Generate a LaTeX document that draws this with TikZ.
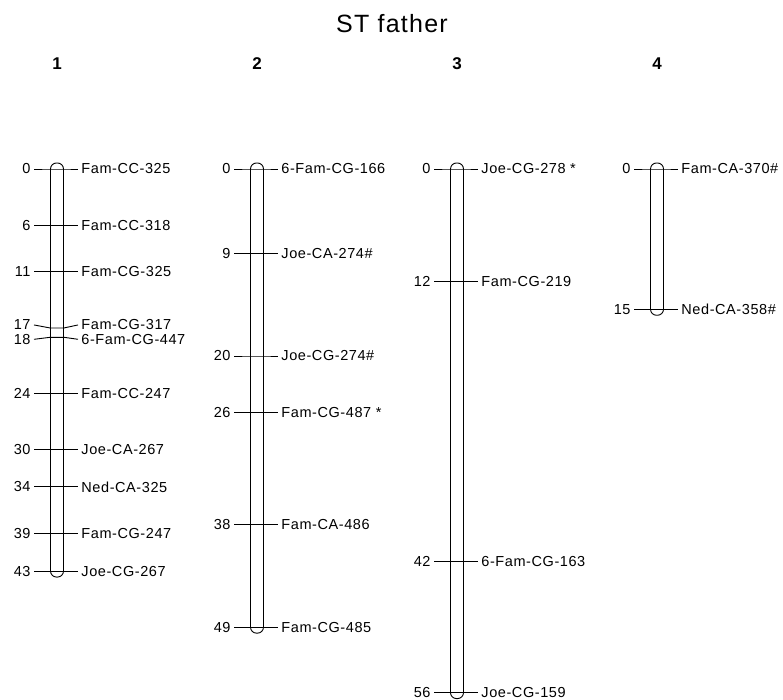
\documentclass[tikz,border=0pt]{standalone}
\usepackage{fontspec}
\setmainfont{Liberation Sans}
\newfontfamily\lblfont[LetterSpace=4]{Liberation Sans}
\newfontfamily\ttlfont[LetterSpace=5]{Liberation Sans}
\usetikzlibrary{positioning}

\begin{document}
\begin{tikzpicture}[x = 1pt, y = -1pt, line width = 0.9pt,
  cnum/.style = {anchor = east, inner sep = 3pt, font = \lblfont\fontsize{14.5}{15}\selectfont},
  mlab/.style = {anchor = west, inner sep = 3pt, font = \lblfont\fontsize{14.5}{15}\selectfont},
  grp/.style = {font = \bfseries\fontsize{17}{18}\selectfont},
  chrom/.style = {draw, rounded corners = 6pt}]
\useasboundingbox (0,0) rectangle (783,700);
\node[font = \ttlfont\fontsize{25}{26}\selectfont] (title) at (392,24) {ST father};
% linkage groups
\foreach \k/\len in {1/43, 2/49, 3/56, 4/15}{
\pgfmathsetmacro\cx{200*\k-143}
\pgfmathsetmacro\yb{169+9.35*\len+6}
\draw[chrom] (\cx-6.5,163) rectangle (\cx+6.5,\yb);
\node[grp] (g\k) at (\cx,64) {\k};
}
% markers: group/cM/label shift/name
\foreach \k/\cm/\dy/\txt in {
1/0/0/Fam-CC-325, 1/6/0/Fam-CC-318, 1/11/0/Fam-CG-325, 1/17/-3/Fam-CG-317,
1/18/2/6-Fam-CG-447, 1/24/0/Fam-CC-247, 1/30/0/Joe-CA-267, 1/34/0/Ned-CA-325,
1/39/0/Fam-CG-247, 1/43/0/Joe-CG-267,
2/0/0/6-Fam-CG-166, 2/9/0/Joe-CA-274\#, 2/20/0/Joe-CG-274\#, 2/26/0/Fam-CG-487 *,
2/38/0/Fam-CA-486, 2/49/0/Fam-CG-485,
3/0/0/Joe-CG-278 *, 3/12/0/Fam-CG-219, 3/42/0/6-Fam-CG-163, 3/56/0/Joe-CG-159,
4/0/0/Fam-CA-370\#, 4/15/0/Ned-CA-358\#}{
\pgfmathsetmacro\cx{200*\k-143}
\pgfmathsetmacro\cy{169+9.35*\cm}
\node[cnum] (n\k-\cm) at (\cx-23,\cy+\dy) {\cm};
\node[mlab] (m\k-\cm) at (\cx+21,\cy+\dy) {\txt};
\draw (n\k-\cm.east) -- (\cx-7,\cy) -- (\cx+7,\cy) -- (m\k-\cm.west);
}
\end{tikzpicture}
\end{document}
